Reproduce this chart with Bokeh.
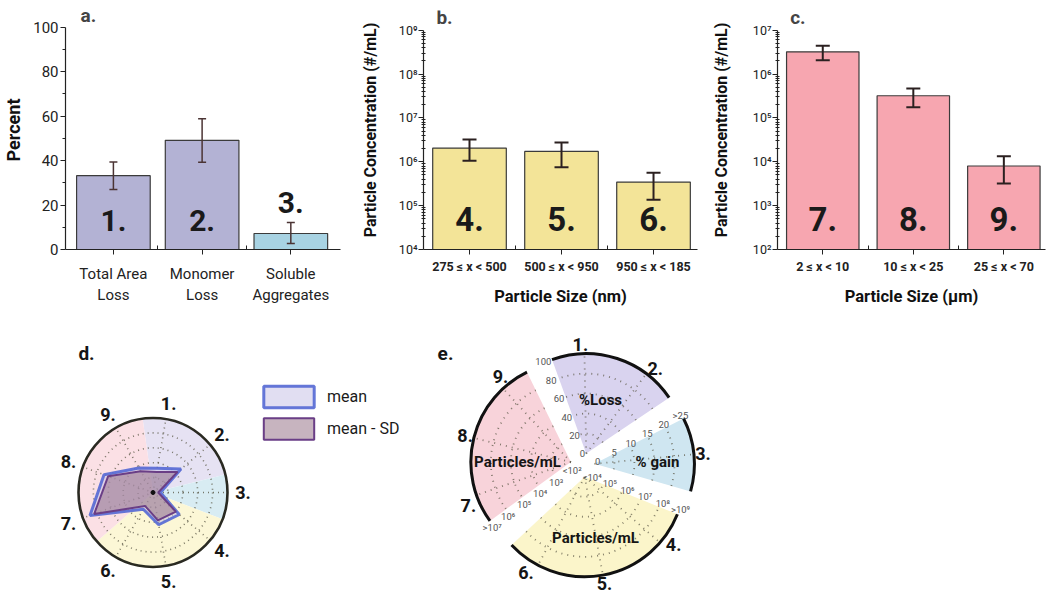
import math
from bokeh.plotting import figure
from bokeh.layouts import column, row
from bokeh.models import (Range1d, FixedTicker, Whisker, TeeHead, ColumnDataSource,
                          Label, Legend, LegendItem)
from bokeh.core.properties import value
from bokeh.embed import file_html
from bokeh.resources import INLINE

FONT = "Roboto"

# ------------------------------------------------------------------ data
a_categories = ["Total Area\nLoss", "Monomer\nLoss", "Soluble\nAggregates"]
a_values = [33.2, 49.1, 7.2]
a_err_upper = [39.4, 58.8, 12.2]
a_err_lower = [27.0, 39.2, 2.7]
a_numbers = ["1.", "2.", "3."]
a_ticks = [0, 20, 40, 60, 80, 100]

b_categories = ["275 ≤ x < 500", "500 ≤ x < 950", "950 ≤ x < 185"]
b_values = [2.05e6, 1.72e6, 3.45e5]
b_err_upper = [3.2e6, 2.75e6, 5.6e5]
b_err_lower = [1.05e6, 7.5e5, 1.37e5]
b_numbers = ["4.", "5.", "6."]
b_exponents = [4, 5, 6, 7, 8, 9]
b_tick_labels = ["10⁴", "10⁵", "10⁶", "10⁷", "10⁸", "10⁹"]

c_categories = ["2 ≤ x < 10", "10 ≤ x < 25", "25 ≤ x < 70"]
c_values = [3.2e6, 3.2e5, 8.0e3]
c_err_upper = [4.4e6, 4.7e5, 1.33e4]
c_err_lower = [2.05e6, 1.75e5, 3.2e3]
c_numbers = ["7.", "8.", "9."]
c_exponents = [2, 3, 4, 5, 6, 7]
c_tick_labels = ["10²", "10³", "10⁴", "10⁵", "10⁶", "10⁷"]

radar_axes = ["1.", "2.", "3.", "4.", "5.", "6.", "7.", "8.", "9."]
radar_mean = [0.33, 0.49, 0.10, 0.46, 0.44, 0.26, 0.90, 0.70, 0.38]
radar_mean_sd = [0.28, 0.43, 0.07, 0.40, 0.38, 0.21, 0.84, 0.64, 0.33]
legend_labels = ["mean", "mean - SD"]

e_groups = ["%Loss", "% gain", "Particles/mL", "Particles/mL"]
e_group_axes = [["1.", "2."], ["3."], ["4.", "5.", "6."], ["7.", "8.", "9."]]
e_scale_labels = [
    ["0", "20", "40", "60", "80", "100"],
    ["0", "5", "10", "15", "20", ">25"],
    ["<10⁴", "10⁵", "10⁶", "10⁷", "10⁸", ">10⁹"],
    ["<10²", "10³", "10⁴", "10⁵", "10⁶", ">10⁷"],
]

# ------------------------------------------------------------------ helpers
INK = "#222222"
TOP_H = 308


def style(p):
    p.grid.visible = False
    p.outline_line_color = None
    for ax in p.axis:
        ax.axis_line_color = INK
        ax.axis_line_width = 1.2
        ax.major_tick_line_color = INK
        ax.minor_tick_line_color = INK
        ax.major_label_text_font = FONT
        ax.major_label_text_color = INK
        ax.axis_label_text_font = FONT
        ax.axis_label_text_font_style = "bold"
        ax.axis_label_text_color = "#111111"
        ax.major_tick_in = 0
        ax.major_tick_out = 5
        ax.minor_tick_in = 0
        ax.minor_tick_out = 3


def whisker(p, xs, up, lo, color, width, head):
    src = ColumnDataSource(dict(x=xs, up=up, lo=lo))
    p.add_layout(Whisker(source=src, base="x", upper="up", lower="lo", level="annotation",
                         line_color=color, line_width=width,
                         upper_head=TeeHead(size=head, line_color=color, line_width=width),
                         lower_head=TeeHead(size=head, line_color=color, line_width=width)))


def pol(cx, cy, r, th):
    t = math.radians(th)
    return cx + r * math.sin(t), cy - r * math.cos(t)


# ------------------------------------------------------------------ panel a
xs = list(range(len(a_categories)))
fa = figure(width=345, height=TOP_H, x_range=Range1d(-0.54, 2.56), y_range=Range1d(0, 107.5),
            output_backend="svg", toolbar_location=None,
            min_border_left=63, min_border_right=5, min_border_top=10, min_border_bottom=55)
fa.vbar(x=xs, top=a_values, bottom=0, width=0.83,
        fill_color=["#b3b2d4", "#b3b2d4", "#a8d3e3"], line_color="#3b3b3b", line_width=1.2)
whisker(fa, xs, a_err_upper, a_err_lower, "#4b3434", 1.5, 8)
a_num_y = [13 if v > 20 else u + 9 for v, u in zip(a_values, a_err_upper)]
fa.text(x=xs, y=a_num_y, text=a_numbers, text_font=value(FONT), text_font_style="bold",
        text_font_size="30px", text_align="center", text_baseline="middle", text_color="#1a1a1a")
style(fa)
fa.yaxis.bounds = (a_ticks[0], a_ticks[-1])
fa.yaxis.ticker = FixedTicker(ticks=a_ticks, minor_ticks=[10, 30, 50, 70, 90])
fa.yaxis.axis_label = "Percent"
fa.yaxis.axis_label_text_font_size = "18px"
fa.yaxis.major_label_text_font_size = "15px"
fa.yaxis.major_label_standoff = 2
fa.yaxis.axis_label_standoff = 6
fa.xaxis.ticker = FixedTicker(ticks=xs, minor_ticks=[0.5, 1.5])
fa.xaxis.major_label_overrides = dict(zip(xs, a_categories))
fa.xaxis.major_label_text_font_size = "15px"
fa.xaxis.major_label_standoff = 10
fa.xaxis.minor_tick_in = 4
fa.xaxis.minor_tick_out = 0
fa.add_layout(Label(x=-0.37, y=105.3, text="a.", text_font=FONT, text_font_style="bold",
                    text_font_size="19px", text_baseline="middle"))

# ------------------------------------------------------------------ panels b, c


def log_panel(width, border_left, border_right, xmax, cats, vals, up, lo, nums, exps,
              tick_labels, color, xlabel, tag, ylabel_standoff):
    p = figure(width=width, height=TOP_H, x_range=Range1d(-0.5, xmax),
               y_range=Range1d(10 ** exps[0], 10 ** (exps[-1] + 0.448)), y_axis_type="log",
               output_backend="svg", toolbar_location=None,
               min_border_left=border_left, min_border_right=border_right,
               min_border_top=10, min_border_bottom=55)
    x = list(range(len(cats)))
    p.vbar(x=x, top=vals, bottom=10 ** exps[0], width=0.8, fill_color=color,
           line_color="#3b3b3b", line_width=1.2)
    whisker(p, x, up, lo, "#2b2020", 2, 14)
    p.text(x=x, y=[10 ** (exps[0] + 0.7)] * len(x), text=nums, text_font=value(FONT),
           text_font_style="bold", text_font_size="33px", text_align="center",
           text_baseline="middle", text_color="#1a1a1a")
    style(p)
    ticks = [10 ** e for e in exps]
    p.yaxis.bounds = (ticks[0], ticks[-1])
    p.yaxis.ticker = FixedTicker(ticks=ticks,
                                 minor_ticks=[m * 10 ** e for e in exps[:-1] for m in range(2, 10)])
    p.yaxis.major_label_overrides = dict(zip(ticks, tick_labels))
    p.yaxis.major_label_text_font_size = "12.5px"
    p.yaxis.major_label_standoff = 1
    p.yaxis.minor_tick_out = 2
    p.yaxis.minor_tick_in = 2
    p.yaxis.axis_label = "Particle Concentration (#/mL)"
    p.yaxis.axis_label_text_font_size = "16px"
    p.yaxis.axis_label_standoff = ylabel_standoff
    p.xaxis.ticker = FixedTicker(ticks=x, minor_ticks=[0.5, 1.5])
    p.xaxis.major_label_overrides = dict(zip(x, cats))
    p.xaxis.major_label_text_font_size = "12.5px"
    p.xaxis.major_label_text_font_style = "bold"
    p.xaxis.major_label_standoff = 4
    p.xaxis.minor_tick_in = 4
    p.xaxis.minor_tick_out = 0
    p.xaxis.axis_label = xlabel
    p.xaxis.axis_label_text_font_size = "16.5px"
    p.xaxis.axis_label_standoff = 10
    p.add_layout(Label(x=-0.36, y=10 ** (exps[-1] + 0.29), text=tag, text_font=FONT,
                       text_font_style="bold", text_font_size="19px", text_baseline="middle"))
    return p


fb = log_panel(355, 78, 3, 2.478, b_categories, b_values, b_err_upper, b_err_lower,
               b_numbers, b_exponents, b_tick_labels, "#f3e498", "Particle Size (nm)", "b.", 16)
fc = log_panel(350, 77, 5, 2.46, c_categories, c_values, c_err_upper, c_err_lower,
               c_numbers, c_exponents, c_tick_labels, "#f7a6b0", "Particle Size (µm)", "c.", 19)

# ------------------------------------------------------------------ bottom (d, e)
fd = figure(width=1050, height=595 - TOP_H, x_range=Range1d(0, 1050),
            y_range=Range1d(595, TOP_H), output_backend="svg", toolbar_location=None,
            x_axis_location=None, y_axis_location=None, min_border=0)
fd.grid.visible = False
fd.outline_line_color = None

DOT = "#5d5a48"
BOLD_TXT = dict(text_font=value(FONT), text_font_style="bold", text_align="center",
                text_baseline="middle", text_color="#151515")
NUM_MAX_Y = 583  # keep the lowest label inside the page


def num_labels(pts, texts):
    fd.text(x=[p[0] for p in pts], y=[min(p[1], NUM_MAX_Y) for p in pts],
            text=texts, text_font_size="18px", **BOLD_TXT)


# ---- panel d : radar
D_CX, D_CY, D_R = 152.5, 492.0, 74.5
n_ax = len(radar_axes)
d_angles = [10 + 360.0 / n_ax * i for i in range(n_ax)]
d_bounds = [(-8, 76), (76, 111), (111, 229), (229, 352)]
d_colors = ["#e6e2f3", "#d8ecf3", "#fcf7d6", "#fbe0e5"]
for (t1, t2), col in zip(d_bounds, d_colors):
    fd.wedge(x=D_CX, y=D_CY, radius=D_R, start_angle=math.radians(90 - t2),
             end_angle=math.radians(90 - t1), fill_color=col, line_color=None)
ring_f = [0.2, 0.4, 0.6, 0.8]
fd.circle(x=[D_CX] * len(ring_f), y=[D_CY] * len(ring_f), radius=[f * D_R for f in ring_f],
          fill_color=None, line_color=DOT, line_dash="1 4", line_width=1.6, line_alpha=0.8)
ends = [pol(D_CX, D_CY, D_R, a) for a in d_angles]
fd.segment(x0=[D_CX] * n_ax, y0=[D_CY] * n_ax, x1=[e[0] for e in ends], y1=[e[1] for e in ends],
           line_color=DOT, line_dash="1 4", line_width=1.6, line_alpha=0.8)
fd.circle(x=D_CX, y=D_CY, radius=D_R, fill_color=None, line_color="#2a2a22", line_width=2.6)


def radar_xy(vals):
    pts = [pol(D_CX, D_CY, v * D_R, a) for v, a in zip(vals, d_angles)]
    return [p[0] for p in pts], [p[1] for p in pts]


mx, my = radar_xy(radar_mean)
sx, sy = radar_xy(radar_mean_sd)
r_mean = fd.patch(mx, my, fill_color="#c9c3e8", fill_alpha=0.55, line_color="#5468d4",
                  line_width=3, line_alpha=0.9)
r_sd = fd.patch(sx, sy, fill_color="#8f6a80", fill_alpha=0.5, line_color="#6a3e86",
                line_width=2)
fd.scatter(x=[D_CX], y=[D_CY], size=4, color="#111111")
num_labels([pol(D_CX, D_CY, 90, a) for a in d_angles], radar_axes)
fd.add_layout(Legend(items=[LegendItem(label=legend_labels[0], renderers=[r_mean]),
                            LegendItem(label=legend_labels[1], renderers=[r_sd])],
                     location=(257, 153), glyph_width=63, glyph_height=27, label_height=27,
                     spacing=5, padding=0, margin=0, label_standoff=7,
                     border_line_color=None, background_fill_alpha=0,
                     label_text_font=FONT, label_text_font_size="16px",
                     label_text_color="#1a1a1a"))
fd.text(x=[86, 445], y=[353, 353], text=["d.", "e."], text_font_size="19px", **BOLD_TXT)

# ---- panel e : exploded scale pie
E_CX, E_CY, E_R, E_OFF = 582.0, 464.5, 100.0, 12.0
e_bounds = [(-20, 56), (63, 106), (112, 227), (234, 334)]
e_colors = ["#d9d3ef", "#cfe6f1", "#fbf5ca", "#f8d3da"]
e_name_pos = [(600, 399), (657, 461), (595, 537), (517, 461)]
e_scale_line = [(-3.8, 0.4, -23, 100), (3.3, -2.3, 60.9, 94.6),
                (7.5, 0.5, 110.3, 94.2), (1.3, 8.7, 234.7, 98)]

for g, name in enumerate(e_groups):
    t1, t2 = e_bounds[g]
    bis = (t1 + t2) / 2.0
    axp, ayp = pol(E_CX, E_CY, E_OFF, bis)
    fd.wedge(x=axp, y=ayp, radius=E_R, start_angle=math.radians(90 - t2),
             end_angle=math.radians(90 - t1), fill_color=e_colors[g], line_color=None)
    fd.arc(x=[axp] * len(ring_f), y=[ayp] * len(ring_f), radius=[f * E_R for f in ring_f],
           start_angle=math.radians(90 - t2), end_angle=math.radians(90 - t1),
           line_color=DOT, line_dash="1 5", line_width=1.8, line_alpha=0.75)
    axes = e_group_axes[g]
    step = (t2 - t1) / len(axes)
    sp = [t1 + (k + 0.5) * step for k in range(len(axes))]
    se = [pol(axp, ayp, E_R, a) for a in sp]
    fd.segment(x0=[axp] * len(sp), y0=[ayp] * len(sp), x1=[e[0] for e in se],
               y1=[e[1] for e in se], line_color=DOT, line_dash="1 5", line_width=1.8,
               line_alpha=0.75)
    fd.arc(x=axp, y=ayp, radius=E_R, start_angle=math.radians(90 - t2),
           end_angle=math.radians(90 - t1), line_color="#111111", line_width=3)
    num_labels([pol(E_CX, E_CY, 121, a) for a in sp], axes)
    fd.text(x=[e_name_pos[g][0]], y=[e_name_pos[g][1]], text=[name],
            text_font_size="15px", **BOLD_TXT)
    dx, dy, ang, length = e_scale_line[g]
    labs = e_scale_labels[g]
    n = len(labs) - 1
    spos = [pol(axp + dx, ayp + dy, length * k / n, ang) for k in range(len(labs))]
    fd.text(x=[p[0] for p in spos], y=[p[1] for p in spos], text=labs,
            text_font=value(FONT), text_font_size="9.5px", text_align="center",
            text_baseline="middle", text_color="#555555")

layout = column(row(fa, fb, fc), fd)
open("out.html", "w").write(file_html(layout, INLINE))
